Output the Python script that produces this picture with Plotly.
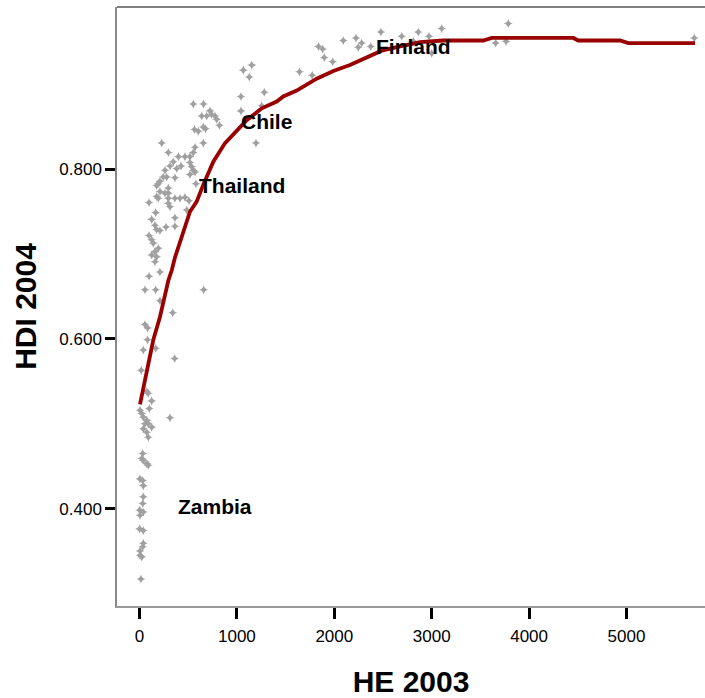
import plotly.graph_objects as go

# Scatter data: health expenditure 2003 (HE) vs HDI 2004
he = [552, 657, 724, 639, 690, 739, 775, 793, 821, 565, 604, 655, 678, 570, 655,
      1042, 1042, 1066, 1152, 1127, 1281, 1255, 1196, 1643, 1773, 1838, 1881, 1897, 1984,
      2092, 2223, 2281, 2246, 2374, 2479, 2692, 2862, 2972, 3103, 3000, 2811, 3657, 3763,
      3786, 5696,
      228, 296, 552, 518, 467, 400, 347, 313, 262, 426, 382, 518, 536, 552, 518, 570,
      364, 279, 244, 210, 193, 580, 176, 210, 262, 296, 296, 176, 193, 296, 296, 313,
      364, 416, 467, 508, 98, 485, 166, 125, 364, 364, 272, 159, 176, 210, 98, 125,
      142, 193, 159, 125, 176, 159, 98, 210, 56, 166, 659, 210, 341, 56, 84, 82, 39,
      167, 361, 18, 74, 90, 125, 101, 5, 23, 39, 313, 74, 56, 90, 39, 125, 74, 90,
      33, 23, 39, 74, 90, 5, 33, 39, 39, 33, 2, 5, 39, 2, 39, 39, 33, 5, 5, 23, 15]
hdi = [0.877, 0.877, 0.869, 0.863, 0.863, 0.865, 0.863, 0.859, 0.852, 0.847, 0.845,
       0.850, 0.848, 0.826, 0.831,
       0.886, 0.869, 0.917, 0.923, 0.909, 0.891, 0.875, 0.831, 0.915, 0.911, 0.945,
       0.942, 0.932, 0.927, 0.952, 0.955, 0.949, 0.944, 0.945, 0.962, 0.957, 0.962,
       0.957, 0.966, 0.937, 0.951, 0.949, 0.951, 0.972, 0.955,
       0.831, 0.820, 0.820, 0.815, 0.815, 0.815, 0.809, 0.804, 0.799, 0.804, 0.801,
       0.808, 0.803, 0.799, 0.794, 0.797, 0.790, 0.791, 0.791, 0.786, 0.783, 0.783,
       0.781, 0.774, 0.772, 0.778, 0.772, 0.768, 0.766, 0.766, 0.760, 0.756, 0.766,
       0.766, 0.767, 0.763, 0.761, 0.752, 0.749, 0.741, 0.743, 0.733, 0.732, 0.734,
       0.729, 0.728, 0.722, 0.717, 0.713, 0.707, 0.703, 0.699, 0.697, 0.691, 0.674,
       0.679, 0.658, 0.658, 0.658, 0.645, 0.631, 0.617, 0.613, 0.599, 0.587, 0.589,
       0.577, 0.563, 0.538, 0.536, 0.527, 0.518, 0.516, 0.512, 0.508, 0.507, 0.504,
       0.500, 0.500, 0.494, 0.496, 0.490, 0.484, 0.465, 0.459, 0.457, 0.453, 0.451,
       0.435, 0.433, 0.427, 0.414, 0.406, 0.398, 0.392, 0.396, 0.376, 0.374, 0.359,
       0.355, 0.350, 0.345, 0.343, 0.317]

# Fitted (loess-like) curve
fit_he = [5, 142, 210, 296, 331, 364, 518, 587, 655, 758, 878, 998, 1101, 1255,
          1409, 1476, 1614, 1819, 1990, 2161, 2333, 2487, 2675, 2880, 3119, 3530,
          3616, 4454, 4505, 4933, 5019, 5703]
fit_hdi = [0.523, 0.599, 0.626, 0.669, 0.681, 0.696, 0.750, 0.762, 0.782, 0.809,
           0.831, 0.846, 0.858, 0.872, 0.880, 0.886, 0.893, 0.907, 0.916, 0.923,
           0.932, 0.940, 0.945, 0.950, 0.952, 0.952, 0.955, 0.955, 0.952, 0.952,
           0.949, 0.949]

# Country labels
label_text = ["Finland", "Chile", "Thailand", "Zambia"]
label_he = [2808, 1299, 1057, 770]
label_hdi = [0.9447, 0.856, 0.7815, 0.403]

x_ticks = [0, 1000, 2000, 3000, 4000, 5000]
y_ticks = [0.4, 0.6, 0.8]

FONT = "Liberation Sans, Arial"

fig = go.Figure()
fig.add_trace(go.Scatter(
    x=he, y=hdi, mode="markers",
    marker=dict(symbol="star-diamond", size=6.5, color="#a0a0a0"),
    showlegend=False, hoverinfo="skip"))
fig.add_trace(go.Scatter(
    x=fit_he, y=fit_hdi, mode="lines",
    line=dict(color="#990000", width=3.8),
    showlegend=False, hoverinfo="skip"))

for t, xv, yv in zip(label_text, label_he, label_hdi):
    fig.add_annotation(x=xv, y=yv, text="<b>" + t + "</b>", showarrow=False,
                       font=dict(family=FONT, size=21, color="black"))

fig.add_shape(type="line", xref="paper", yref="paper", x0=0, x1=1, y0=1, y1=1,
              line=dict(color="#555555", width=1.5))

fig.update_layout(
    width=705, height=698,
    margin=dict(l=117, r=0, t=7, b=92),
    paper_bgcolor="white", plot_bgcolor="white",
    font=dict(family=FONT, size=17, color="black"),
    xaxis=dict(range=[-231, 5806], tickvals=x_ticks, ticks="outside", ticklen=11,
               tickwidth=3, tickcolor="black", showgrid=False, zeroline=False,
               showline=True, linecolor="#999999", linewidth=1.5,
               tickfont=dict(size=17), ticklabelstandoff=3,
               title=dict(text="<b>HE 2003</b>", font=dict(size=30), standoff=28)),
    yaxis=dict(range=[0.2851, 0.9915], tickvals=y_ticks, tickformat=".3f",
               ticks="outside", ticklen=10, tickwidth=3, tickcolor="black",
               showgrid=False, zeroline=False, showline=True, linecolor="#888888",
               linewidth=1.5, tickfont=dict(size=17), ticklabelstandoff=0,
               title=dict(text="<b>HDI 2004</b>", font=dict(size=30), standoff=14)),
)

fig.write_html("out.html")
